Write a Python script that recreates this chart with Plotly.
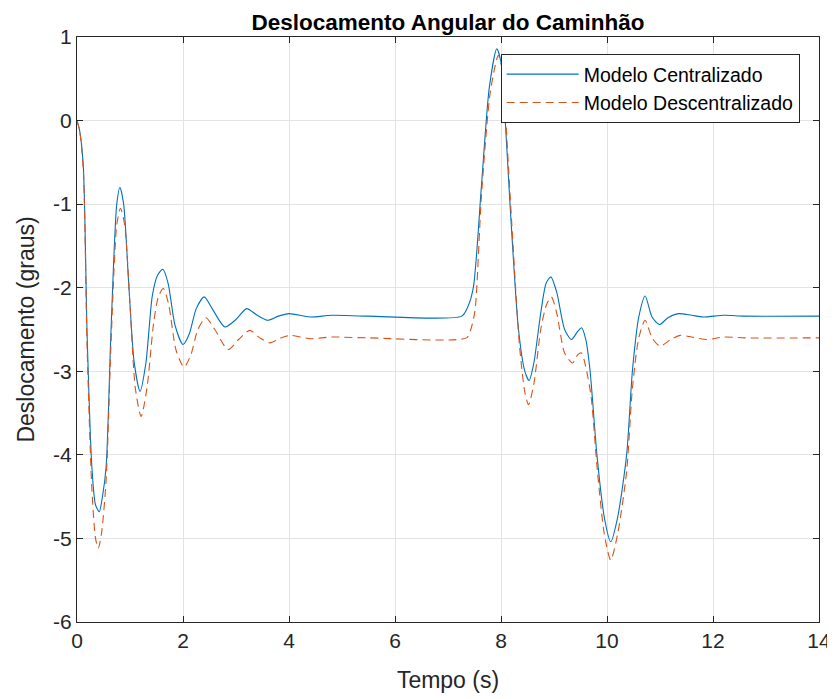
import plotly.graph_objects as go

# Time samples and values
t_cent = [0, 0.05, 0.12, 0.19, 0.28, 0.35, 0.42, 0.48, 0.55, 0.64, 0.75, 0.81, 0.88, 0.98,
          1.08, 1.19, 1.3, 1.42, 1.52, 1.62, 1.72, 1.85, 2.0, 2.12, 2.25, 2.4, 2.55, 2.79,
          3.0, 3.2, 3.4, 3.6, 3.8, 4.0, 4.4, 4.8, 5.5, 7.26, 7.38, 7.48, 7.63, 7.78, 7.92,
          8.0, 8.08, 8.17, 8.33, 8.45, 8.53, 8.62, 8.75, 8.85, 8.94, 9.05, 9.2, 9.33, 9.45,
          9.52, 9.6, 9.68, 9.81, 9.95, 10.07, 10.2, 10.37, 10.48, 10.6, 10.72, 10.85, 10.99,
          11.15, 11.35, 11.6, 11.82, 12.2, 12.6, 14]
y_cent = [0, -0.12, -0.56, -2.54, -4.14, -4.6, -4.68, -4.5, -4.14, -2.54, -1.0, -0.8, -1.0, -2.0,
          -2.9, -3.24, -2.9, -2.1, -1.85, -1.78, -1.95, -2.45, -2.68, -2.55, -2.25, -2.11, -2.25, -2.47,
          -2.38, -2.25, -2.33, -2.39, -2.34, -2.31, -2.35, -2.33, -2.34, -2.34, -2.22, -1.99, -0.79, 0.4, 0.86,
          0.7, 0.0, -1.0, -2.5, -3.0, -3.11, -2.9, -2.3, -1.95, -1.87, -2.05, -2.5, -2.62, -2.52,
          -2.48, -2.62, -2.99, -4.0, -4.75, -5.04, -4.75, -4.0, -2.99, -2.35, -2.10, -2.35, -2.44,
          -2.36, -2.31, -2.33, -2.35, -2.33, -2.34, -2.34]

t_desc = [0, 0.05, 0.12, 0.19, 0.28, 0.35, 0.40, 0.46, 0.55, 0.64, 0.75, 0.82, 0.9, 1.0,
          1.1, 1.21, 1.32, 1.45, 1.54, 1.63, 1.73, 1.87, 2.02, 2.15, 2.28, 2.43, 2.6, 2.85,
          3.05, 3.26, 3.45, 3.64, 3.85, 4.02, 4.4, 4.8, 5.5, 7.35, 7.43, 7.51, 7.63, 7.8, 7.95,
          8.03, 8.1, 8.2, 8.35, 8.45, 8.52, 8.62, 8.75, 8.86, 8.95, 9.05, 9.2, 9.35, 9.45,
          9.52, 9.6, 9.7, 9.82, 9.95, 10.07, 10.2, 10.37, 10.48, 10.6, 10.72, 10.85, 11.0,
          11.2, 11.38, 11.6, 11.88, 12.2, 12.6, 14]
y_desc = [0, -0.12, -0.6, -2.7, -4.4, -5.0, -5.12, -4.95, -4.3, -2.7, -1.25, -1.05, -1.25, -2.2,
          -3.2, -3.54, -3.2, -2.4, -2.1, -2.01, -2.2, -2.75, -2.95, -2.8, -2.5, -2.36, -2.5, -2.74,
          -2.62, -2.51, -2.6, -2.66, -2.6, -2.57, -2.61, -2.59, -2.60, -2.60, -2.5, -2.27, -0.91, 0.35, 0.78,
          0.6, -0.1, -1.2, -2.7, -3.25, -3.40, -3.15, -2.5, -2.2, -2.11, -2.3, -2.78, -2.90, -2.8,
          -2.78, -2.95, -3.3, -4.2, -4.95, -5.26, -4.95, -4.2, -3.2, -2.6, -2.39, -2.6, -2.70,
          -2.62, -2.57, -2.59, -2.62, -2.59, -2.60, -2.60]

x_ticks = [0, 2, 4, 6, 8, 10, 12, 14]
y_ticks = [1, 0, -1, -2, -3, -4, -5, -6]

FONT = "Liberation Sans, Arial, sans-serif"
W, H = 827, 691  # page has an 8px body margin

fig = go.Figure()
fig.add_trace(go.Scatter(x=t_cent, y=y_cent, mode="lines", name="Modelo Centralizado",
                         line=dict(color="#0072BD", width=1.1, shape="spline", smoothing=0.7)))
fig.add_trace(go.Scatter(x=t_desc, y=y_desc, mode="lines", name="Modelo Descentralizado",
                         line=dict(color="#D95319", width=1.1, dash="8px,5px", shape="spline", smoothing=0.7)))

axis_common = dict(showline=True, linecolor="#262626", linewidth=1, mirror="allticks",
                   ticks="inside", ticklen=6, tickcolor="#262626", automargin=False,
                   showgrid=True, gridcolor="#e3e3e3", gridwidth=1, zeroline=False,
                   tickfont=dict(family=FONT, size=21, color="#262626"))

fig.update_layout(
    width=W, height=H,
    margin=dict(l=69, r=16, t=29, b=77, autoexpand=False),
    paper_bgcolor="white", plot_bgcolor="white",
    title=dict(text="<b>Deslocamento Angular do Caminhão</b>", x=(69 + 811) / 2 / W, xanchor="center",
               y=1 - 14 / H, yanchor="middle", font=dict(family=FONT, size=22.5, color="black")),
    xaxis=dict(range=[0, 14], tickvals=x_ticks, ticktext=[str(v) for v in x_ticks],
               title=dict(text="Tempo (s)", font=dict(family=FONT, size=23, color="#262626"), standoff=20),
               **axis_common),
    yaxis=dict(range=[-6, 1], tickvals=y_ticks, ticktext=[str(v) for v in y_ticks],
               title=dict(text="Deslocamento (graus)", font=dict(family=FONT, size=23, color="#262626"), standoff=12),
               **axis_common),
    legend=dict(x=0.974, y=0.971, xanchor="right", yanchor="top",
                bgcolor="white", bordercolor="#262626", borderwidth=1,
                font=dict(family=FONT, size=19.5, color="black"),
                tracegroupgap=0, itemwidth=72),
    showlegend=True,
)

fig.write_html("out.html")
